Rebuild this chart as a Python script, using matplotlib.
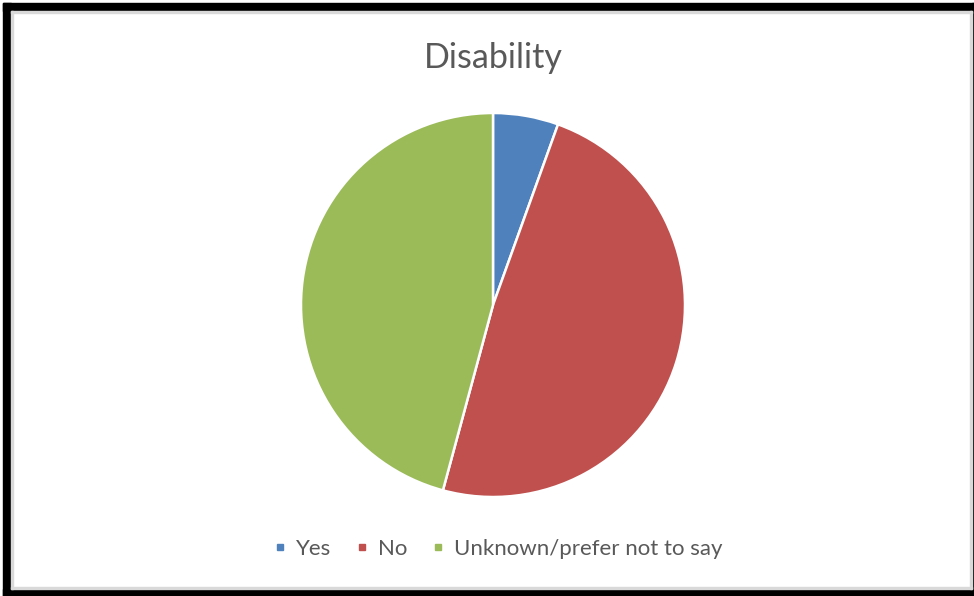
import matplotlib.pyplot as plt
from matplotlib.lines import Line2D
from matplotlib.patches import Rectangle

LABELS = ["Yes", "No", "Unknown/prefer not to say"]
VALUES = [5.5, 48.7, 45.8]
COLORS = ["#4F81BD", "#C0504D", "#9BBB59"]
TITLE = "Disability"

W, H = 974, 596
plt.rcParams["font.family"] = ["Lato", "DejaVu Sans"]

fig = plt.figure(figsize=(W / 100, H / 100), dpi=100)
fig.patch.set_facecolor("white")

# thick black frame around the chart area
def frame(x, y, w, h, color):
    fig.patches.append(Rectangle((x / W, 1 - (y + h) / H), w / W, h / H,
                                 transform=fig.transFigure, color=color, zorder=0))

frame(3, 3, 971, 8, "black")      # top
frame(3, 3, 8, 593, "black")      # left
frame(3, 589, 971, 7, "black")    # bottom
frame(972, 3, 2, 593, "black")    # right
frame(11, 11, 961, 2, "#d9d9d9")
frame(11, 11, 2, 578, "#d9d9d9")
frame(11, 587, 961, 2, "#d9d9d9")
frame(970, 11, 2, 578, "#d9d9d9")

cx, cy, r = 493, 305, 192
ax = fig.add_axes([(cx - r) / W, 1 - (cy + r) / H, 2 * r / W, 2 * r / H])
ax.pie(VALUES, colors=COLORS, startangle=90, counterclock=False, radius=1,
       wedgeprops=dict(edgecolor="white", linewidth=1.8))
ax.set_xlim(-1, 1)
ax.set_ylim(-1, 1)
ax.set_aspect("equal")
ax.axis("off")

fig.text(493 / W, 1 - 58 / H, TITLE, ha="center", va="center",
         fontsize=24.5, color="#595959")

handles = [Line2D([], [], marker="s", linestyle="none", markersize=4.5,
                  markerfacecolor=c, markeredgecolor=c) for c in COLORS]
fig.legend(handles, LABELS, loc="center", bbox_to_anchor=(499 / W, 1 - 549 / H),
           ncol=3, frameon=False, fontsize=16, labelcolor="#595959",
           handlelength=0.4, handletextpad=0.5, columnspacing=1.2)

fig.savefig("out.png", dpi=100)
